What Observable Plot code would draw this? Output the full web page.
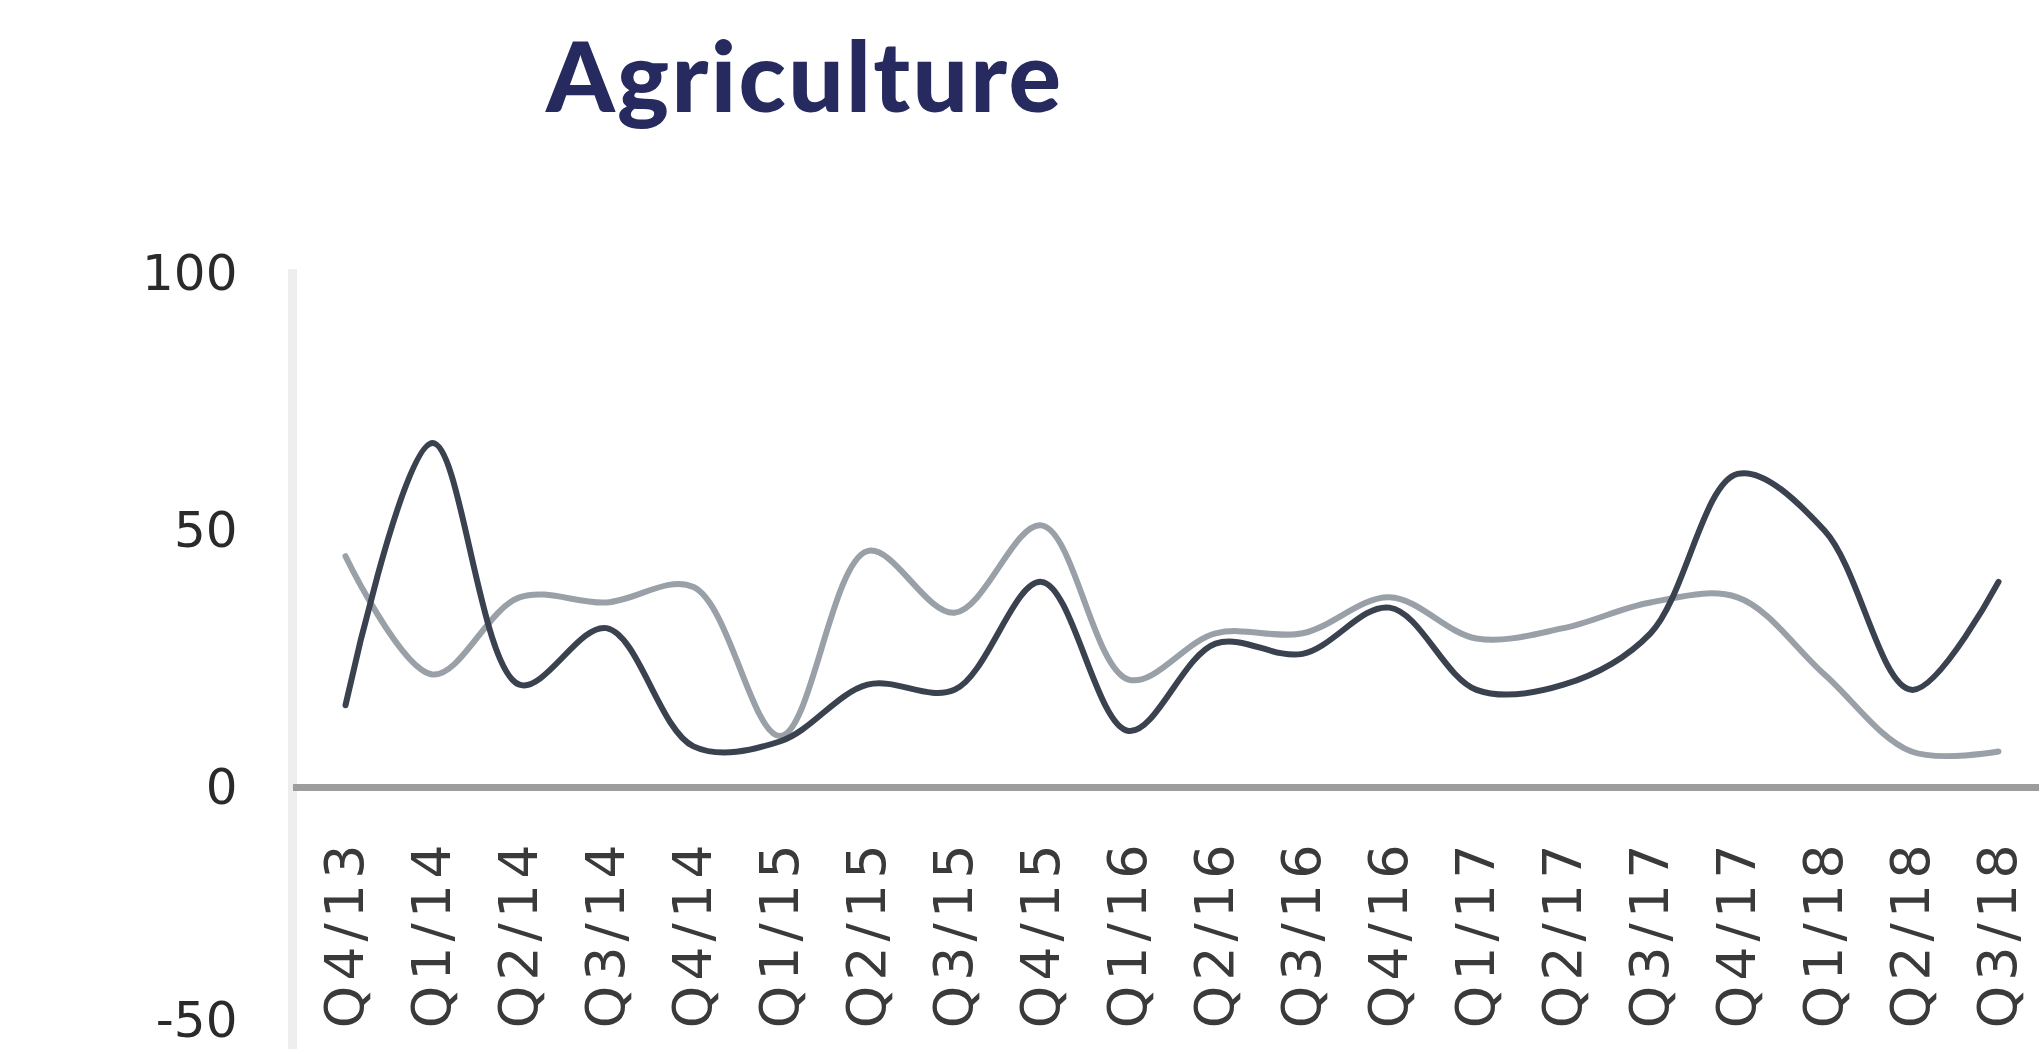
<!DOCTYPE html>
<html>
<head>
<meta charset="utf-8">
<script src="https://cdn.jsdelivr.net/npm/d3@7"></script>
<script src="https://cdn.jsdelivr.net/npm/@observablehq/plot@0.6"></script>
<style>
  html, body { margin: 0; padding: 0; background: #ffffff; overflow: hidden; }
  #title { position: relative; height: 150px; width: 2039px; }
  #title h1 { position: absolute; left: 546px; top: 25px; margin: 0; font-family: Lato, "DejaVu Sans", sans-serif; font-weight: 900; font-size: 98px; line-height: 1; color: #262a5e; letter-spacing: 2.3px; white-space: nowrap; }
  #chart svg { display: block; overflow: visible; }
</style>
</head>
<body>
<div id="title"><h1>Agriculture</h1></div>
<div id="chart"></div>
<script>
const quarters = ["Q4/13","Q1/14","Q2/14","Q3/14","Q4/14","Q1/15","Q2/15","Q3/15","Q4/15","Q1/16","Q2/16","Q3/16","Q4/16","Q1/17","Q2/17","Q3/17","Q4/17","Q1/18","Q2/18","Q3/18"];
const darkSeries  = [16, 67, 20, 31, 8, 9, 20, 19, 40, 11, 28, 26, 35, 19, 20, 30, 61, 50, 19, 40];
const lightSeries = [45, 22, 37, 36, 39, 10, 46, 34, 51, 21, 30, 30, 37, 29, 31, 36, 37, 22, 7, 7];
const yTicks = [0, 50, 100];
const yBottomTick = [-50];

const darkData = quarters.map((q, i) => ({q, v: darkSeries[i]}));
const lightData = quarters.map((q, i) => ({q, v: lightSeries[i]}));

const chart = Plot.plot({
  width: 2039,
  height: 920,
  marginLeft: 338,
  marginRight: 34,
  marginTop: 123,
  marginBottom: 26,
  style: {fontFamily: "'DejaVu Sans', sans-serif", fontSize: "50px", color: "#2a2a2a", background: "#ffffff"},
  x: {type: "point", domain: quarters, padding: 0, axis: null},
  y: {domain: [-50, 100], label: null, axis: null},
  marks: [
    Plot.frame({anchor: "left", stroke: "#eeeeee", strokeWidth: 9, insetLeft: -46}),
    Plot.axisY(yTicks, {tickSize: 0, tickPadding: 101, tickFormat: d => String(d), label: null, fill: "#2a2a2a"}),
    Plot.text(yBottomTick, {y: d => d, text: d => String(d), frameAnchor: "left", dx: -101, textAnchor: "end", lineAnchor: "bottom", dy: -8, fontSize: 50, fill: "#2a2a2a"}),
    Plot.ruleY([0], {stroke: "#9d9d9d", strokeWidth: 7, insetLeft: -45, insetRight: -40}),
    Plot.line(lightData, {x: "q", y: "v", stroke: "#9aa0a7", strokeWidth: 6, curve: "catmull-rom"}),
    Plot.line(darkData, {x: "q", y: "v", stroke: "#3a4250", strokeWidth: 6, curve: "catmull-rom"}),
    Plot.text(quarters, {x: d => d, y: () => 0, dy: 52, rotate: -90, textAnchor: "end", lineAnchor: "middle", fontSize: 54, fill: "#3a3a3a", className: "qlabel"})
  ]
});
d3.select(chart).selectAll(".qlabel text").style("letter-spacing", "5px");
document.getElementById("chart").appendChild(chart);
</script>
</body>
</html>
